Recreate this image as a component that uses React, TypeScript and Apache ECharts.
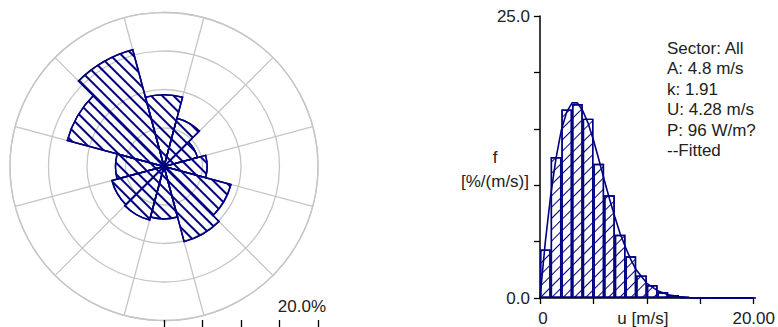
import React, { useEffect, useRef } from 'react';
import * as echarts from 'echarts';

// ---- Data ----
const sectorLabels = ['0', '30', '60', '90', '120', '150', '180', '210', '240', '270', '300', '330'];
const sectorFreq = [9.3, 6.5, 4.5, 5.6, 9.0, 10.1, 6.8, 7.2, 7.0, 6.3, 13.0, 15.7];

const binLabels = ['0-1', '1-2', '2-3', '3-4', '4-5', '5-6', '6-7', '7-8', '8-9', '9-10', '10-11', '11-12', '12-13', '13-14', '14-15', '15-16', '16-17', '17-18', '18-19', '19-20'];
const binFreq = [4.3, 12.5, 16.7, 17.2, 15.9, 11.9, 9.1, 5.6, 3.7, 2.0, 1.15, 0.5, 0.27, 0.1, 0.05, 0.03, 0, 0, 0, 0];

const fitSpeed = [0, 0.5, 1, 1.5, 2, 2.5, 3, 3.5, 4, 4.5, 5, 5.5, 6, 6.5, 7, 7.5, 8, 8.5, 9, 9.5, 10, 11, 12, 13, 14, 15, 16, 18, 20, 22];
const fitFreq = [0, 5.0, 9.1, 12.4, 14.9, 16.5, 17.3, 17.3, 16.6, 15.5, 14.0, 12.3, 10.5, 8.8, 7.2, 5.7, 4.5, 3.4, 2.5, 1.9, 1.3, 0.65, 0.29, 0.12, 0.05, 0.015, 0.005, 0, 0, 0];

const xTickLabels: Record<number, string> = { 0: '{a|0}', 10: '{b|u [m/s]}', 20: '20.00' };
const yTickLabels: Record<number, string> = { 0: '0.0', 25: '25.0' };
const infoLines = ['Sector: All', 'A: 4.8 m/s', 'k: 1.91', 'U: 4.28 m/s', 'P: 96 W/m?'];
const fittedLabel = 'Fitted';
const scaleLabel = '20.0%';
const yName = ['f', '[%/(m/s)]'];

const NAVY = '#000080';
const GRID = '#c6c6c6';
const TEXT = '#222222';
const FONT = 'Liberation Sans';
const FS = 17;

function buildOption(): any {
  const hatch = (rot: number, bg: string, w: number, gap: number) => ({
    symbol: 'rect',
    symbolSize: 1,
    dashArrayX: [1, 0],
    dashArrayY: [w, gap],
    rotation: rot,
    color: NAVY,
    backgroundColor: bg,
  });
  const labelText = { color: TEXT, fontSize: FS, fontFamily: FONT, lineHeight: FS };
  return {
    animation: false,
    aria: { enabled: true, decal: { show: true } },
    textStyle: { fontFamily: FONT },
    polar: { center: [164, 166.5], radius: 154 },
    angleAxis: {
      type: 'category', data: sectorLabels, startAngle: 105, clockwise: true, boundaryGap: true,
      axisLine: { show: true, lineStyle: { color: GRID, width: 1.3 } },
      axisTick: { show: false }, axisLabel: { show: false },
      splitLine: { show: true, lineStyle: { color: GRID, width: 1.3 } },
    },
    radiusAxis: {
      type: 'value', min: 0, max: 20, interval: 5,
      axisLine: { show: false }, axisTick: { show: false }, axisLabel: { show: false },
      splitLine: { show: true, lineStyle: { color: GRID, width: 1.3 } },
    },
    grid: [
      { left: 540, top: 16, width: 218, height: 282 },
      { left: 164, top: 310, width: 154, height: 10 },
    ],
    xAxis: [
      {
        gridIndex: 0, type: 'value', min: 0, max: 20, interval: 5,
        axisLine: { show: true, onZero: false, lineStyle: { color: '#000', width: 1.5 } },
        axisTick: { show: true, length: 6, lineStyle: { color: '#000', width: 1.3 } },
        axisLabel: {
          margin: 12, ...labelText,
          formatter: (v: number) => xTickLabels[v] ?? '',
          rich: {
            a: { ...labelText, padding: [0, 0, 0, 6] },
            b: { ...labelText, padding: [0, 8, 0, 0] },
          },
        },
        splitLine: { show: false },
      },
      { gridIndex: 0, type: 'category', data: binLabels, boundaryGap: true, show: false },
      {
        gridIndex: 1, type: 'value', min: 0, max: 20, interval: 5, position: 'bottom',
        axisLine: { show: false, onZero: false },
        axisTick: { show: true, inside: false, length: 8, lineStyle: { color: '#000', width: 1.3 } },
        axisLabel: { show: false }, splitLine: { show: false },
      },
    ],
    yAxis: [
      {
        gridIndex: 0, type: 'value', min: 0, max: 25, interval: 5,
        axisLine: { show: true, lineStyle: { color: '#000', width: 1.5 } },
        axisTick: { show: true, length: 6, lineStyle: { color: '#000', width: 1.3 } },
        axisLabel: { margin: 10, color: TEXT, fontSize: FS, fontFamily: FONT, formatter: (v: number) => yTickLabels[v] ?? '' },
        splitLine: { show: false },
      },
      { gridIndex: 1, type: 'value', min: 0, max: 1, show: false },
    ],
    series: [
      {
        type: 'bar', coordinateSystem: 'polar', data: sectorFreq, barCategoryGap: '0%',
        itemStyle: { color: 'rgba(255,255,255,0)', borderColor: NAVY, borderWidth: 1.5, decal: hatch(Math.PI / 4, 'rgba(255,255,255,0)', 1.2, 5.3) },
      },
      {
        type: 'bar', xAxisIndex: 1, yAxisIndex: 0, data: binFreq, barCategoryGap: '0%',
        itemStyle: { color: '#ffffff', borderColor: NAVY, borderWidth: 1.4, decal: hatch(-Math.PI / 4, '#ffffff', 1.0, 6.8) },
      },
      {
        type: 'line', xAxisIndex: 0, yAxisIndex: 0, data: fitSpeed.map((s, i) => [s, fitFreq[i]]),
        showSymbol: false, clip: false, lineStyle: { color: NAVY, width: 1.6 }, itemStyle: { color: NAVY, decal: 'none' }, z: 3,
      },
      { type: 'line', xAxisIndex: 2, yAxisIndex: 1, data: [], showSymbol: false },
    ],
    graphic: [
      { type: 'text', x: 667, y: 38, style: { text: infoLines.join('\n') + '\n{d|--}' + fittedLabel, fill: TEXT, fontSize: FS, fontFamily: FONT, lineHeight: 20.5, rich: { d: { fill: NAVY, fontSize: FS, fontFamily: FONT, lineHeight: 20.5 } } } },
      { type: 'text', x: 495, y: 169, style: { text: yName.join('\n'), fill: TEXT, fontSize: FS, fontFamily: FONT, lineHeight: 24, align: 'center', verticalAlign: 'middle' } },
      { type: 'text', x: 326, y: 306, style: { text: scaleLabel, fill: TEXT, fontSize: FS, fontFamily: FONT, align: 'right', verticalAlign: 'middle' } },
    ],
  };
}

export default function App() {
  const ref = useRef<HTMLDivElement>(null);
  useEffect(() => {
    const chart = echarts.init(ref.current!, null, { renderer: 'svg' });
    chart.setOption(buildOption());
    return () => chart.dispose();
  }, []);
  return <div ref={ref} style={{ position: 'absolute', left: 0, top: 0, width: 778, height: 327 }} />;
}
